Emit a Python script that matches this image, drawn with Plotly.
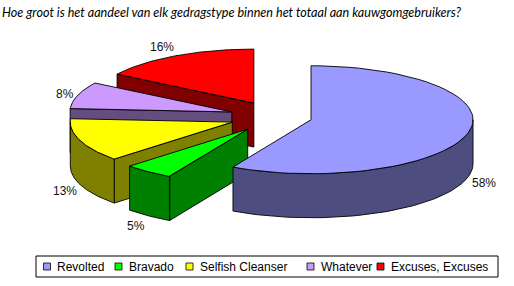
import math
import plotly.graph_objects as go

# ---- data ----
categories = ["Revolted", "Bravado", "Selfish Cleanser", "Whatever", "Excuses, Excuses"]
shares = [58, 5, 13, 8, 16]
labels = ["58%", "5%", "13%", "8%", "16%"]
top_colors = ["#9999FF", "#00FF00", "#FFFF00", "#CC99FF", "#FF0000"]
side_colors = ["#4D4D80", "#008000", "#808000", "#664D80", "#800000"]
title_text = "Hoe groot is het aandeel van elk gedragstype binnen het totaal aan kauwgomgebruikers?"

# ---- geometry / style (pixel space of the 514x286 canvas) ----
W, H = 514, 286
CX, CY = 276.5, 116.8      # pie centre
A, B = 162.0, 54.0         # ellipse radii
DEPTH = 44.0               # thickness
pulls = [0.22, 0.29, 0.29, 0.29, 0.29]
LINE = dict(color="#000000", width=0.9)

total = float(sum(shares))
angles = []
acc = 0.0
for v in shares:
    s = acc / total * 2 * math.pi
    acc += v
    e = acc / total * 2 * math.pi
    angles.append((s, e))


def rim(cx, cy, th, dz=0.0):
    return cx + A * math.sin(th), cy - B * math.cos(th) + dz


def arc(cx, cy, t0, t1, dz=0.0, n=60):
    pts = []
    for k in range(n + 1):
        t = t0 + (t1 - t0) * k / n
        pts.append(rim(cx, cy, t, dz))
    return pts


fig = go.Figure()


def poly(pts, color):
    xs = [p[0] for p in pts] + [pts[0][0]]
    ys = [p[1] for p in pts] + [pts[0][1]]
    fig.add_trace(go.Scatter(x=xs, y=ys, mode="lines", fill="toself",
                             fillcolor=color, line=LINE, hoverinfo="skip",
                             showlegend=False))


apexes = []
for i, (s, e) in enumerate(angles):
    mid = (s + e) / 2
    ax = CX + pulls[i] * A * math.sin(mid)
    ay = CY - pulls[i] * B * math.cos(mid)
    apexes.append((ax, ay))

for i in reversed(range(len(shares))):
    s, e = angles[i]
    ax, ay = apexes[i]
    # radial walls
    if math.sin(s) < -1e-6:
        r = rim(ax, ay, s)
        poly([(ax, ay), r, (r[0], r[1] + DEPTH), (ax, ay + DEPTH)], side_colors[i])
    if math.sin(e) > 1e-6:
        r = rim(ax, ay, e)
        poly([(ax, ay), r, (r[0], r[1] + DEPTH), (ax, ay + DEPTH)], side_colors[i])
    # outer curved side (front half only)
    lo, hi = max(s, math.pi / 2), min(e, 3 * math.pi / 2)
    if lo < hi:
        pts = arc(ax, ay, lo, hi) + list(reversed(arc(ax, ay, lo, hi, DEPTH)))
        poly(pts, side_colors[i])
    # top face
    poly([(ax, ay)] + arc(ax, ay, s, e), top_colors[i])

annotations = []
# percentage labels
label_scale = [1.10, 1.13, 1.10, 1.08, 1.18]
for i, (s, e) in enumerate(angles):
    mid = (s + e) / 2
    ax, ay = apexes[i]
    lx = ax + label_scale[i] * A * math.sin(mid)
    ly = ay - label_scale[i] * B * math.cos(mid)
    if math.cos(mid) < 0:
        ly += DEPTH * 1.1
    annotations.append(dict(x=lx, y=ly, text=labels[i], showarrow=False,
                            xref="x", yref="y", xanchor="center", yanchor="middle",
                            font=dict(family="Liberation Sans, Arial", size=12, color="#111111")))

# title
annotations.append(dict(x=0, y=12, text="<i>" + title_text + "</i>", showarrow=False,
                        xref="x", yref="y", xanchor="left", yanchor="middle",
                        font=dict(family="Lato, Liberation Sans", size=12.6, color="#000000")))

shapes = []
# legend box
LEG_Y = 266.5
shapes.append(dict(type="rect", xref="x", yref="y", x0=36, x1=498, y0=256, y1=277,
                   line=dict(color="#000000", width=1), fillcolor="rgba(0,0,0,0)"))
legend_x = [47, 118.5, 189.5, 310.5, 380.5]
for i, name in enumerate(categories):
    mx = legend_x[i]
    shapes.append(dict(type="rect", xref="x", yref="y", x0=mx - 3.5, x1=mx + 3.5,
                       y0=LEG_Y - 3.5, y1=LEG_Y + 3.5,
                       line=dict(color="#000000", width=0.8), fillcolor=top_colors[i]))
    annotations.append(dict(x=mx + 8, y=LEG_Y, text=name, showarrow=False,
                            xref="x", yref="y", xanchor="left", yanchor="middle",
                            font=dict(family="Liberation Sans, Arial", size=12, color="#000000")))

fig.update_layout(
    width=W, height=H, autosize=False,
    margin=dict(l=0, r=0, t=0, b=0),
    paper_bgcolor="white", plot_bgcolor="white",
    xaxis=dict(range=[0, W], visible=False, fixedrange=True),
    yaxis=dict(range=[H, 0], visible=False, fixedrange=True),
    annotations=annotations, shapes=shapes, showlegend=False,
)

fig.write_html("out.html")
